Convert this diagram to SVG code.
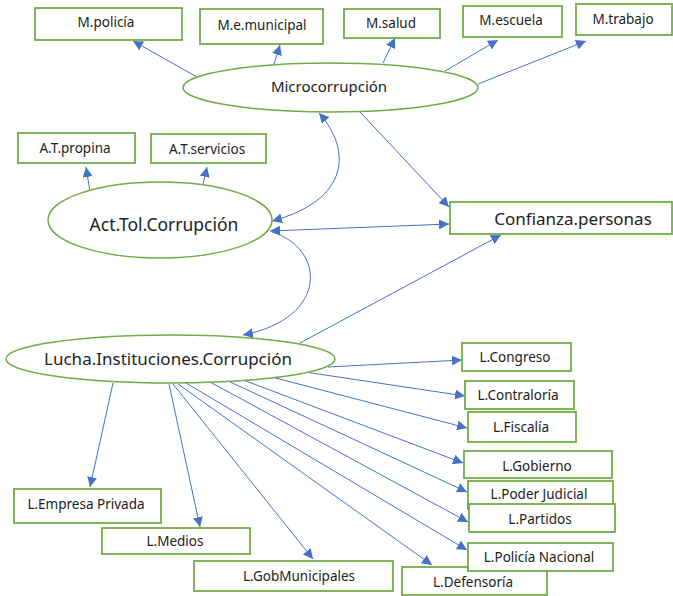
<svg xmlns="http://www.w3.org/2000/svg" width="673" height="596" viewBox="0 0 673 596">
<defs>
<marker id="ah" viewBox="0 0 10 10" refX="10" refY="5" markerWidth="10" markerHeight="10" markerUnits="userSpaceOnUse" orient="auto-start-reverse">
<path d="M0,0 L10,5 L0,10 z" fill="#4472C4"/>
</marker>
<style>
.box{fill:#fff;stroke:#70AD47;stroke-width:1.8}
.ell{fill:#fff;stroke:#70AD47;stroke-width:1.5}
.t{font-family:"Noto Sans","Open Sans","Liberation Sans",sans-serif;font-size:13.5px;fill:#222;text-anchor:middle;dominant-baseline:central}
.tb{font-size:15px}
.tl{font-size:17.5px}
.c{fill:none;stroke:#4472C4;stroke-width:1}
</style>
</defs>
<rect width="673" height="596" fill="#fff"/>
<g id="connectors">
<path class="c" d="M197,77 L133,41" marker-end="url(#ah)"/>
<path class="c" d="M274,64 L280,45" marker-end="url(#ah)"/>
<path class="c" d="M383,63 L395,38" marker-end="url(#ah)"/>
<path class="c" d="M445,71 L498,40" marker-end="url(#ah)"/>
<path class="c" d="M478,84 L586,41" marker-end="url(#ah)"/>
<path class="c" d="M360,112 L449,207" marker-end="url(#ah)"/>
<path class="c" d="M91,198 L86,167" marker-end="url(#ah)"/>
<path class="c" d="M201,193 L207,167" marker-end="url(#ah)"/>
<path class="c" d="M319,113 C352,150 350,200 272,221" marker-start="url(#ah)" marker-end="url(#ah)"/>
<path class="c" d="M270,231 L449,224" marker-start="url(#ah)" marker-end="url(#ah)"/>
<path class="c" d="M272,232 C325,248 330,318 243,335" marker-end="url(#ah)"/>
<path class="c" d="M300,343 L501,235" marker-end="url(#ah)"/>
<path class="c" d="M328,367 L462,360" marker-end="url(#ah)"/>
<path class="c" d="M305,372 L465,396" marker-end="url(#ah)"/>
<path class="c" d="M268,376 L467,428" marker-end="url(#ah)"/>
<path class="c" d="M238,378 L463,463" marker-end="url(#ah)"/>
<path class="c" d="M226,380 L467,492" marker-end="url(#ah)"/>
<path class="c" d="M210,382 L468,522" marker-end="url(#ah)"/>
<path class="c" d="M186,383 L467,550" marker-end="url(#ah)"/>
<path class="c" d="M178,384 L432,565" marker-end="url(#ah)"/>
<path class="c" d="M173,384 L313,559" marker-end="url(#ah)"/>
<path class="c" d="M169,384 L200,527" marker-end="url(#ah)"/>
<path class="c" d="M113,383 L90,487" marker-end="url(#ah)"/>
</g>
<g id="m-policia"><rect class="box" x="35" y="8" width="147" height="32"/><text class="t" x="106" y="22">M.policía</text></g>
<g id="m-e-municipal"><rect class="box" x="200" y="9" width="123" height="35"/><text class="t" x="262" y="25">M.e.municipal</text></g>
<g id="m-salud"><rect class="box" x="344" y="9" width="96" height="29"/><text class="t" x="391" y="23">M.salud</text></g>
<g id="m-escuela"><rect class="box" x="463" y="6" width="99" height="31"/><text class="t" x="511" y="20">M.escuela</text></g>
<g id="m-trabajo"><rect class="box" x="576" y="4" width="96" height="31"/><text class="t" x="623" y="19">M.trabajo</text></g>
<g id="microcorrupcion"><ellipse class="ell" cx="330.5" cy="87.5" rx="147.5" ry="24.5"/><text class="t tb" x="329" y="86">Microcorrupción</text></g>
<g id="at-propina"><rect class="box" x="18" y="133" width="117" height="30"/><text class="t" x="75" y="148">A.T.propina</text></g>
<g id="at-servicios"><rect class="box" x="151" y="134" width="115" height="29"/><text class="t" x="207" y="149">A.T.servicios</text></g>
<g id="act-tol"><ellipse class="ell" cx="160" cy="220" rx="112" ry="38"/><text class="t tl" x="164" y="224">Act.Tol.Corrupción</text></g>
<g id="confianza"><rect class="box" x="450" y="202" width="222" height="32"/><text class="t" style="font-size:17px" x="573" y="218">Confianza.personas</text></g>
<g id="lucha"><ellipse class="ell" cx="170.5" cy="359" rx="164.5" ry="24"/><text class="t" style="font-size:17px" x="168" y="358">Lucha.Instituciones.Corrupción</text></g>
<g id="l-congreso"><rect class="box" x="462" y="343" width="109" height="28"/><text class="t" x="515" y="357">L.Congreso</text></g>
<g id="l-contraloria"><rect class="box" x="465" y="381" width="109" height="28"/><text class="t" x="518" y="395">L.Contraloría</text></g>
<g id="l-fiscalia"><rect class="box" x="468" y="412" width="108" height="30"/><text class="t" x="521" y="427">L.Fiscalía</text></g>
<g id="l-gobierno"><rect class="box" x="464" y="451" width="148" height="27"/><text class="t" x="537" y="466">L.Gobierno</text></g>
<g id="l-poder-judicial"><rect class="box" x="468" y="481" width="145" height="28"/><text class="t" x="539" y="494">L.Poder Judicial</text></g>
<g id="l-partidos"><rect class="box" x="469" y="504" width="146" height="28"/><text class="t" x="540" y="519">L.Partidos</text></g>
<g id="l-defensoria"><rect class="box" x="402" y="567" width="145" height="28"/><text class="t" x="473" y="582">L.Defensoría</text></g>
<g id="l-policia-nacional"><rect class="box" x="468" y="543" width="145" height="28"/><text class="t" x="539" y="557">L.Policía Nacional</text></g>
<g id="l-empresa-privada"><rect class="box" x="14" y="489" width="147" height="34"/><text class="t" x="86" y="504">L.Empresa Privada</text></g>
<g id="l-medios"><rect class="box" x="102" y="528" width="148" height="26"/><text class="t" x="175" y="541">L.Medios</text></g>
<g id="l-gobmunicipales"><rect class="box" x="194" y="561" width="199" height="30"/><text class="t" x="299" y="576">L.GobMunicipales</text></g>
</svg>
